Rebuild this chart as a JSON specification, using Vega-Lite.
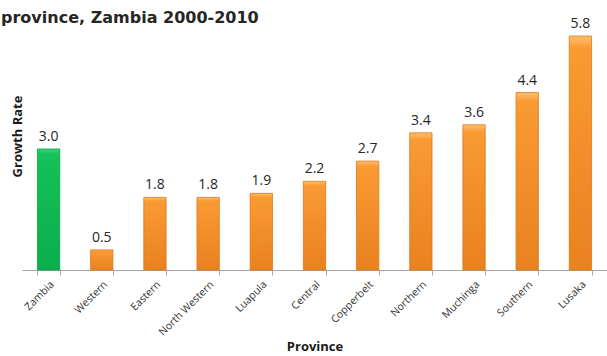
{
  "$schema": "https://vega.github.io/schema/vega-lite/v6.json",
  "width": 585,
  "height": 242,
  "autosize": "none",
  "padding": {"left": 22, "top": 28, "right": 0, "bottom": 86},
  "background": "white",
  "config": {"view": {"stroke": null}},
  "title": {
    "text": "province, Zambia 2000-2010",
    "anchor": "start",
    "frame": "group",
    "font": "DejaVu Sans",
    "fontSize": 16,
    "fontWeight": "bold",
    "color": "#262626",
    "dx": -21,
    "dy": 19,
    "offset": 10
  },
  "data": {
    "values": [
      {"province": "Zambia", "rate": 3.0, "type": "national"},
      {"province": "Western", "rate": 0.5, "type": "province"},
      {"province": "Eastern", "rate": 1.8, "type": "province"},
      {"province": "North Western", "rate": 1.8, "type": "province"},
      {"province": "Luapula", "rate": 1.9, "type": "province"},
      {"province": "Central", "rate": 2.2, "type": "province"},
      {"province": "Copperbelt", "rate": 2.7, "type": "province"},
      {"province": "Northern", "rate": 3.4, "type": "province"},
      {"province": "Muchinga", "rate": 3.6, "type": "province"},
      {"province": "Southern", "rate": 4.4, "type": "province"},
      {"province": "Lusaka", "rate": 5.8, "type": "province"}
    ]
  },
  "encoding": {
    "x": {
      "field": "province",
      "type": "nominal",
      "sort": null,
      "scale": {"paddingInner": 0.58, "paddingOuter": 0.29},
      "axis": {
        "title": "Province",
        "titleFont": "Open Sans",
        "titleFontSize": 13,
        "titleFontWeight": "bold",
        "titleColor": "#1a1a1a",
        "titlePadding": 3,
        "labelAngle": -45,
        "labelFont": "Open Sans",
        "labelFontSize": 10.5,
        "labelColor": "#333333",
        "labelPadding": 4,
        "domainColor": "#a6a6a6",
        "tickColor": "#a6a6a6",
        "tickSize": 5,
        "tickBand": "extent"
      }
    },
    "y": {
      "field": "rate",
      "type": "quantitative",
      "scale": {"domain": [0, 6], "nice": false},
      "axis": {
        "title": "Growth Rate",
        "titleFont": "Open Sans",
        "titleFontSize": 13,
        "titleFontWeight": "bold",
        "titleColor": "#1a1a1a",
        "labels": false,
        "ticks": false,
        "domain": false,
        "grid": false,
        "titlePadding": 0,
        "titleX": -5,
        "titleY": 108,
        "titleBaseline": "middle"
      }
    }
  },
  "layer": [
    {
      "transform": [{"filter": "datum.type === 'national'"}],
      "mark": {
        "type": "bar",
        "stroke": "#109a45",
        "strokeWidth": 0.8,
        "color": {
          "gradient": "linear", "x1": 0, "y1": 0, "x2": 0, "y2": 1,
          "stops": [
            {"offset": 0, "color": "#3fd47a"},
            {"offset": 0.04, "color": "#14c15a"},
            {"offset": 1, "color": "#0aae4d"}
          ]
        }
      }
    },
    {
      "transform": [{"filter": "datum.type === 'province'"}],
      "mark": {
        "type": "bar",
        "stroke": "#d9791d",
        "strokeWidth": 0.8,
        "color": {
          "gradient": "linear", "x1": 0, "y1": 0, "x2": 0, "y2": 1,
          "stops": [
            {"offset": 0, "color": "#ffc070"},
            {"offset": 0.05, "color": "#fa9a33"},
            {"offset": 1, "color": "#e9811f"}
          ]
        }
      }
    },
    {
      "mark": {
        "type": "text",
        "baseline": "bottom",
        "dy": -5,
        "font": "Open Sans",
        "fontSize": 14,
        "color": "#262626"
      },
      "encoding": {
        "text": {"field": "rate", "type": "quantitative", "format": ".1f"}
      }
    }
  ]
}
